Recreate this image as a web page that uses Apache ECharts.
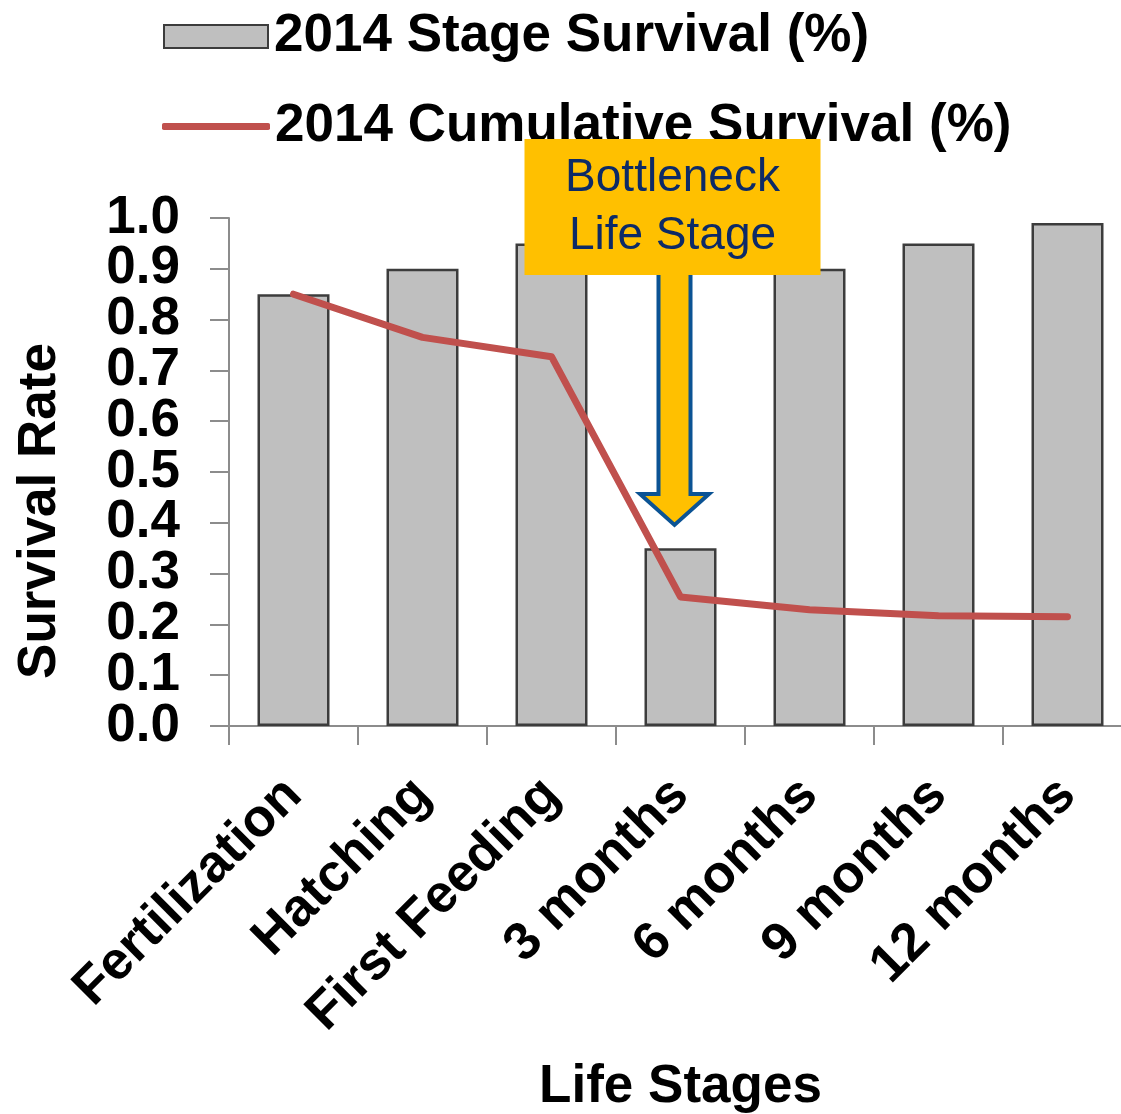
<!DOCTYPE html>
<html>
<head>
<meta charset="utf-8">
<script src="https://cdn.jsdelivr.net/npm/echarts@6/dist/echarts.min.js"></script>
<style>
  html, body { margin: 0; padding: 0; background: #ffffff; }
  #chart { width: 1121px; height: 1114px; }
</style>
</head>
<body>
<div id="chart"></div>
<script>
// Life stages on the category axis
const stages = ['Fertilization', 'Hatching', 'First Feeding', '3 months', '6 months', '9 months', '12 months'];
// Survival within each stage
const stageSurvival = [0.85, 0.90, 0.95, 0.35, 0.90, 0.95, 0.99];
// Cumulative survival from fertilization onward
const cumulativeSurvival = [0.85, 0.765, 0.727, 0.254, 0.229, 0.217, 0.215];
const seriesNames = ['2014 Stage Survival (%)', '2014 Cumulative Survival (%)'];
// Value-axis range and step
const yMin = 0;
const yMax = 1;
const yStep = 0.1;
// Callout pointing at the bottleneck stage
const calloutStage = '3 months';
const calloutValue = 0.39;
const calloutText = 'Bottleneck\nLife Stage';

const FONT = '"Liberation Sans", Arial, Helvetica, sans-serif';
const axisGrey = '#8c8c8c';
const boldText = { fontSize: 53, fontWeight: 'bold', color: '#000', fontFamily: FONT };

// The tenths labels sit closer than their glyph height, so even and odd
// tenths are drawn by two overlaid value axes sharing the same scale.
const isEvenTenth = v => Math.round(v / yStep) % 2 === 0;

const chart = echarts.init(document.getElementById('chart'), null, { renderer: 'canvas' });

chart.setOption({
  backgroundColor: '#ffffff',
  animation: false,
  textStyle: { fontFamily: FONT },
  legend: [
    {
      data: [seriesNames[0]],
      left: 158,
      top: 5,
      icon: 'rect',
      itemWidth: 104,
      itemHeight: 23,
      selectedMode: false,
      textStyle: Object.assign({}, boldText, { padding: [0, 0, 0, 1] })
    },
    {
      data: [seriesNames[1]],
      left: 157,
      top: 95,
      icon: 'roundRect',
      itemWidth: 108,
      itemHeight: 7,
      selectedMode: false,
      textStyle: Object.assign({}, boldText, { padding: [0, 0, 0, 0] })
    }
  ],
  grid: { left: 229, top: 218, width: 903, height: 508, containLabel: false, outerBoundsMode: 'none' },
  xAxis: {
    type: 'category',
    data: stages,
    boundaryGap: true,
    name: 'Life Stages',
    nameLocation: 'middle',
    nameGap: 335,
    nameTextStyle: boldText,
    axisLine: { show: true, lineStyle: { color: axisGrey, width: 2 } },
    axisTick: { show: true, length: 19, alignWithLabel: false, lineStyle: { color: axisGrey, width: 2 } },
    axisLabel: Object.assign({ interval: 0, rotate: 45, margin: 61, hideOverlap: false }, boldText),
    splitLine: { show: false }
  },
  yAxis: [
    {
      type: 'value',
      position: 'left',
      min: yMin,
      max: yMax,
      interval: yStep * 2,
      name: 'Survival Rate',
      nameLocation: 'middle',
      nameGap: 162,
      nameTextStyle: Object.assign({}, boldText, { padding: [0, 78, 0, 0] }),
      axisLine: { show: true, lineStyle: { color: axisGrey, width: 2 } },
      axisTick: { show: false },
      axisLabel: Object.assign({
        margin: 49,
        showMinLabel: true,
        showMaxLabel: true,
        formatter: v => v.toFixed(1)
      }, boldText),
      splitLine: { show: false }
    },
    {
      type: 'value',
      position: 'left',
      offset: 0,
      min: yMin,
      max: yMax,
      interval: yStep,
      axisLine: { show: false },
      axisTick: { show: true, length: 19, lineStyle: { color: axisGrey, width: 2 } },
      axisLabel: Object.assign({
        margin: 49,
        formatter: v => (isEvenTenth(v) ? '' : v.toFixed(1))
      }, boldText),
      splitLine: { show: false }
    }
  ],
  series: [
    {
      name: seriesNames[0],
      type: 'bar',
      data: stageSurvival,
      barWidth: 72,
      yAxisIndex: 0,
      itemStyle: { color: '#bfbfbf', borderColor: '#3c3c3c', borderWidth: 2.5 },
      z: 2
    },
    {
      name: seriesNames[1],
      type: 'line',
      data: cumulativeSurvival,
      yAxisIndex: 0,
      symbol: 'none',
      color: '#c0504d',
      lineStyle: { color: '#c0504d', width: 7, cap: 'round', join: 'round' },
      z: 3
    }
  ]
});

// Callout box and arrow, anchored to the bottleneck stage on the chart's scales
const [tx, ty] = chart.convertToPixel({ xAxisIndex: 0, yAxisIndex: 0 }, [calloutStage, calloutValue]);
const cx = tx - 6;
const boxTop = ty - 389;
const boxH = 136;
const boxW = 296;
const boxBottom = boxTop + boxH;
const shaftHalf = 16;
const headHalf = 34.5;
const headTop = ty - 34;
const tipY = ty - 3;

chart.setOption({
  graphic: [
    {
      type: 'polygon',
      z: 100,
      shape: {
        points: [
          [cx - shaftHalf, boxBottom - 4],
          [cx + shaftHalf, boxBottom - 4],
          [cx + shaftHalf, headTop],
          [cx + headHalf, headTop],
          [cx, tipY],
          [cx - headHalf, headTop],
          [cx - shaftHalf, headTop]
        ]
      },
      style: { fill: '#ffc000', stroke: '#0b5394', lineWidth: 4, lineJoin: 'miter' }
    },
    {
      type: 'rect',
      z: 101,
      shape: { x: cx - 2 - boxW / 2, y: boxTop, width: boxW, height: boxH },
      style: { fill: '#ffc000' }
    },
    {
      type: 'text',
      z: 102,
      style: {
        text: calloutText,
        x: cx - 2,
        y: boxTop + boxH / 2,
        align: 'center',
        verticalAlign: 'middle',
        fontSize: 46,
        lineHeight: 58,
        fontFamily: FONT,
        fill: '#0d2a66'
      }
    }
  ]
});
</script>
</body>
</html>
